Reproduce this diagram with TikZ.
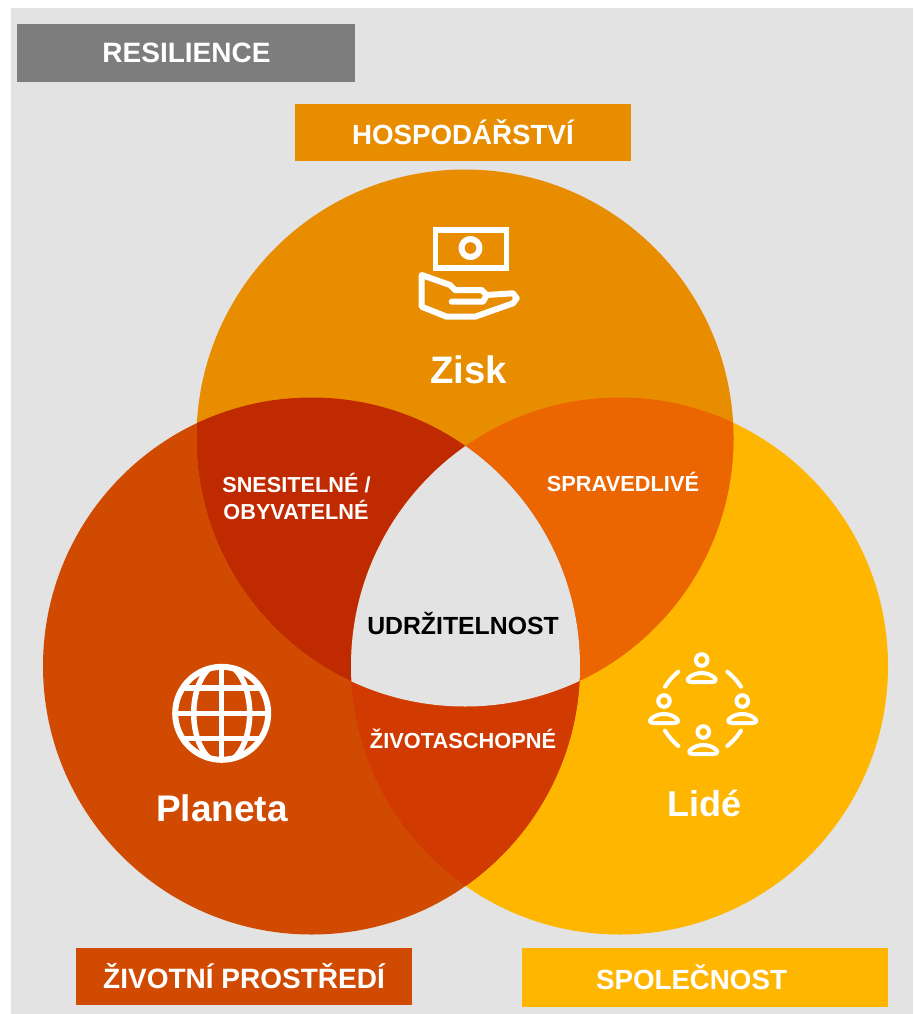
\documentclass[tikz,border=0pt]{standalone}
\usepackage{fontspec}
\setmainfont{Liberation Sans}
\definecolor{bgc}{HTML}{E3E3E3}
\definecolor{greyc}{HTML}{7D7D7D}
\definecolor{topc}{HTML}{E88D00}
\definecolor{leftc}{HTML}{D04A02}
\definecolor{rightc}{HTML}{FFB600}
\definecolor{ltc}{HTML}{C02A00}
\definecolor{trc}{HTML}{EB6500}
\definecolor{lrc}{HTML}{D13A00}
\tikzset{
  lab/.style={anchor=base,inner sep=0pt,text=white,font=\bfseries\fontsize{#1}{#1}\selectfont},
  icon/.style={draw=white,line width=#1,line cap=round,line join=round}
}
\newcommand{\personicon}[2]{%
  \draw[icon=4pt] (#1,#2-18) circle[radius=5.8pt];
  \draw[icon=4pt] (#1-10,#2+4) -- (#1+10,#2+4) .. controls (#1+15,#2+4) and (#1+15,#2+1) .. (#1+12,#2-1)
     .. controls (#1+8,#2-4) and (#1+4,#2-5) .. (#1,#2-5)
     .. controls (#1-4,#2-5) and (#1-8,#2-4) .. (#1-12,#2-1)
     .. controls (#1-15,#2+1) and (#1-15,#2+4) .. cycle;
}
\begin{document}
\begin{tikzpicture}[x=1pt,y=-1pt]
\useasboundingbox (0,0) rectangle (913,1014);
\fill[white] (0,0) rectangle (913,1014);
\fill[bgc] (11,8) rectangle (913,1014);
\coordinate (T) at (465,438);
\coordinate (L) at (311.5,666);
\coordinate (R) at (619.5,666);
\def\rr{268.5pt}
\fill[rightc] (R) circle[radius=\rr];
\fill[leftc] (L) circle[radius=\rr];
\fill[topc] (T) circle[radius=\rr];
\begin{scope}\clip (L) circle[radius=\rr]; \fill[ltc] (T) circle[radius=\rr];\end{scope}
\begin{scope}\clip (R) circle[radius=\rr]; \fill[trc] (T) circle[radius=\rr];\end{scope}
\begin{scope}\clip (L) circle[radius=\rr]; \fill[lrc] (R) circle[radius=\rr];\end{scope}
\begin{scope}\clip (L) circle[radius=\rr]; \clip (R) circle[radius=\rr]; \fill[bgc] (T) circle[radius=\rr];\end{scope}
% panels
\fill[greyc] (17,24) rectangle (355,82);
\fill[topc] (295,104) rectangle (631,161);
\fill[leftc] (76,948) rectangle (412,1005);
\fill[rightc] (522,948) rectangle (888,1007);
% money icon
\draw[icon=5.7pt,line cap=butt,line join=miter] (435.5,230) rectangle (506.5,268);
\draw[icon=6pt] (470.5,248) circle[radius=9pt];
\draw[icon=6pt] (421.7,275) -- (450,285) -- (455,290) -- (481.7,290) -- (486.7,295) -- (513,293.3)
  -- (516.7,298.3) -- (513,303.3) -- (475,316.7) -- (446.7,316.7) -- (421.7,306.7) -- cycle;
\draw[icon=6pt] (451.7,301.7) -- (483,301.7) -- (486.7,295);
% globe icon
\begin{scope}
\clip (221.7,713.3) circle[radius=48pt];
\draw[icon=5.5pt] (221.7,713.3) ellipse[x radius=28pt,y radius=50pt];
\draw[icon=5.5pt] (221.7,660) -- (221.7,766);
\draw[icon=5.5pt] (170,713.3) -- (273,713.3);
\draw[icon=5.5pt] (170,688) -- (273,688);
\draw[icon=5.5pt] (170,738.5) -- (273,738.5);
\end{scope}
\draw[icon=6pt] (221.7,713.3) circle[radius=46.5pt];
% people icon
\personicon{701.7}{678}
\personicon{664}{719}
\personicon{742.3}{719}
\personicon{703.3}{750}
\draw[icon=4pt] (678.3,671.7) to[bend right=8] (665,686.7);
\draw[icon=4pt] (727.3,671.7) to[bend left=8] (741,686.7);
\draw[icon=4pt] (665,730.7) to[bend right=8] (678.3,746);
\draw[icon=4pt] (741,730.7) to[bend left=8] (727.3,746);
% labels
\node[lab=28] (resilience) at (186.5,63) {RESILIENCE};
\node[lab=27.7] (hosp) at (463,144) {HOSPODÁŘSTVÍ};
\node[lab=38.3] (zisk) at (468.5,383) {Zisk};
\node[lab=21.7] (sne) at (296.5,492) {SNESITELNÉ /};
\node[lab=21.7] (oby) at (296,519) {OBYVATELNÉ};
\node[lab=21.8] (spr) at (623,491) {SPRAVEDLIVÉ};
\node[lab=24.8,text=black] (udr) at (463,634) {UDRŽITELNOST};
\node[lab=21.8] (ziv) at (463,748) {ŽIVOTASCHOPNÉ};
\node[lab=37] (planeta) at (222,821) {Planeta};
\node[lab=36] (lide) at (704,816) {Lidé};
\node[lab=28] (zp) at (244,988) {ŽIVOTNÍ PROSTŘEDÍ};
\node[lab=27.7] (spo) at (691.5,989) {SPOLEČNOST};
\end{tikzpicture}
\end{document}
